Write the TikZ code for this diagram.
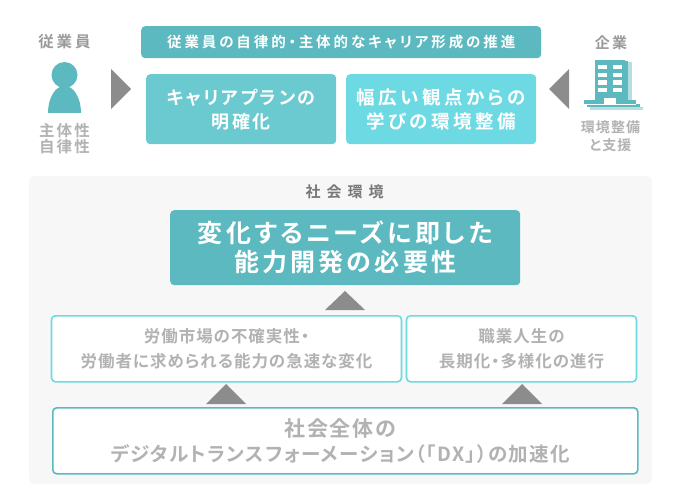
\documentclass[tikz,border=0pt]{standalone}
\usepackage{fontspec}
\setmainfont{Noto Sans CJK JP Bold}[RawFeature=+palt]
\definecolor{tealA}{HTML}{5CB9BF}
\definecolor{tealB}{HTML}{6BCAD0}
\definecolor{tealC}{HTML}{6DDAE3}
\definecolor{tealS}{HTML}{B4DFE2}
\definecolor{panelg}{HTML}{F7F7F7}
\definecolor{trig}{HTML}{8C8C8C}
\definecolor{txtA}{HTML}{9A9A9A}
\definecolor{txtB}{HTML}{B2B2B2}
\definecolor{txtC}{HTML}{777777}
\newcommand\jpt[3]{\fontsize{#1}{#2}\selectfont\addfontfeature{LetterSpace=#3}}
\tikzset{
  x=1pt,y=-1pt,
  box/.style={rounded corners=4pt,inner sep=0pt,align=center,anchor=north west,text=white},
  outl/.style={box,fill=white,line width=1.6pt,text=txtB},
  lab/.style={inner sep=0pt,align=center},
  tri/.style={fill=trig,draw=none},
  ic/.style={fill=tealA,draw=none},
  win/.style={fill=white,draw=none},
}
\begin{document}
\begin{tikzpicture}
\useasboundingbox (0,0) rectangle (680,500);
% panel
\fill[panelg,rounded corners=5pt] (29,176) rectangle (652,484);
% top
\node[box,fill=tealA,minimum width=400pt,minimum height=32pt,font=\jpt{14.5}{18}{20}] (goal) at (141,26) {従業員の自律的・主体的なキャリア形成の推進};
\node[box,fill=tealB,minimum width=190pt,minimum height=70pt,font=\jpt{18}{24}{14}] (plan) at (146,74) {キャリアプランの\\明確化};
\node[box,fill=tealC,minimum width=190pt,minimum height=70pt,font=\jpt{18.5}{24}{19}] (learn) at (346,74) {幅広い観点からの\\学びの環境整備};
% side arrows
\fill[tri] (111,69) -- (131,89) -- (111,109) -- cycle;
\fill[tri] (569,69) -- (549,89) -- (569,109) -- cycle;
% left labels
\node[lab,text=txtA,font=\jpt{15.5}{18}{18}] (emp) at (64.5,42) {従業員};
\node[lab,text=txtB,font=\jpt{15.5}{16}{14}] (emptext) at (64.5,139) {主体性\\自律性};
% person
\fill[ic] (64.5,75) circle (13);
\fill[ic] (48,113) .. controls (48,98) and (55,86) .. (64.5,86) .. controls (74,86) and (81,98) .. (81,113) -- cycle;
% right labels
\node[lab,text=txtA,font=\jpt{15}{18}{14}] (corp) at (611,43) {企業};
\node[lab,text=txtB,font=\jpt{14}{18}{8}] (corptext) at (610.5,136) {環境整備\\と支援};
% building
\fill[tealS] (628,62) rectangle (632,101);
\fill[tealS] (590,107) rectangle (643,110);
\fill[ic] (625,61) rectangle (628,101);
\fill[ic] (595,60) rectangle (625,100);
\fill[ic] (584,100) rectangle (636,104);
\fill[ic] (587,104) rectangle (640,107);
\fill[white] (584,103.6) rectangle (636,104.2);
\foreach \wy in {65,72.7,80.5,88}{
  \fill[win] (598,\wy) rectangle (606.5,\wy+4.4);
  \fill[win] (613,\wy) rectangle (621.5,\wy+4.4);
}
\fill[win] (604,98) rectangle (616,104);
% social
\node[lab,text=txtC,font=\jpt{15}{18}{40}] (soc) at (344.5,192) {社会環境};
\node[box,fill=tealA,minimum width=350pt,minimum height=75pt,font=\jpt{25}{29}{13}] (need) at (170,210) {変化するニーズに即した\\能力開発の必要性};
\fill[tri] (345,291) -- (365,310) -- (325,310) -- cycle;
\node[outl,draw=tealC,minimum width=350pt,minimum height=66pt,font=\jpt{16.5}{25}{6}] (labor) at (50.7,315) {労働市場の不確実性・\\労働者に求められる能力の急速な変化};
\node[outl,draw=tealC,minimum width=230pt,minimum height=66pt,font=\jpt{16.5}{25}{6}] (career) at (405.7,315) {職業人生の\\長期化・多様化の進行};
\fill[tri] (226,384) -- (246,404) -- (206,404) -- cycle;
\fill[tri] (522,384) -- (542,404) -- (502,404) -- cycle;
\node[outl,draw=tealA,minimum width=585pt,minimum height=66pt,font=\jpt{19.5}{25}{7}] (dx) at (52,407) {\jpt{21}{25}{8}社会全体の\rule{10pt}{0pt}\\デジタルトランスフォーメーション（「DX」）の加速化\rule{10pt}{0pt}};
\end{tikzpicture}
\end{document}
